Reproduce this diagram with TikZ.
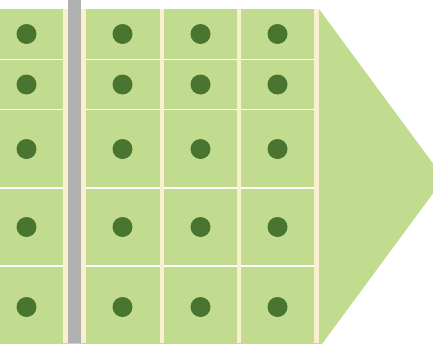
\documentclass[tikz,border=0pt]{standalone}
\definecolor{leaf}{HTML}{C2DC8F}
\definecolor{moss}{HTML}{4A7530}
\definecolor{cream}{HTML}{FAF0D0}
\definecolor{aisle}{HTML}{B0B0B0}
\begin{document}
\begin{tikzpicture}[
    x=1pt, y=-1pt,
    bed/.style={fill=leaf},
    rowline/.style={draw=white, line width=1.1pt},
    divider/.style={fill=cream},
    path/.style={fill=aisle},
    plant/.style={circle, fill=moss, minimum size=20pt, inner sep=0pt}
]
\useasboundingbox (0,0) rectangle (433,343);
\clip (0,0) rectangle (433,343);

% field with pointed end
\fill[bed] (-10,9) -- (319,9) -- (444,178.5) -- (319,348) -- (-10,348) -- cycle;

% row boundaries
\foreach \y in {59.5, 109.5, 188, 266}
    \draw[rowline] (-10,\y) -- (314,\y);

% column dividers
\fill[divider] (63,9)    rectangle (86,343);
\fill[divider] (159.5,9) rectangle (164,343);
\fill[divider] (237,9)   rectangle (241,343);
\fill[divider] (314,9)   rectangle (319,343);

% walkway
\fill[path] (67.5,0) rectangle (81,343);

% plants
\foreach \x [count=\i] in {26.5, 122.5, 200.5, 277.5}
    \foreach \y [count=\j] in {34, 84.5, 149, 227, 307}
        \node[plant] (p\i\j) at (\x,\y) {};

\end{tikzpicture}
\end{document}
